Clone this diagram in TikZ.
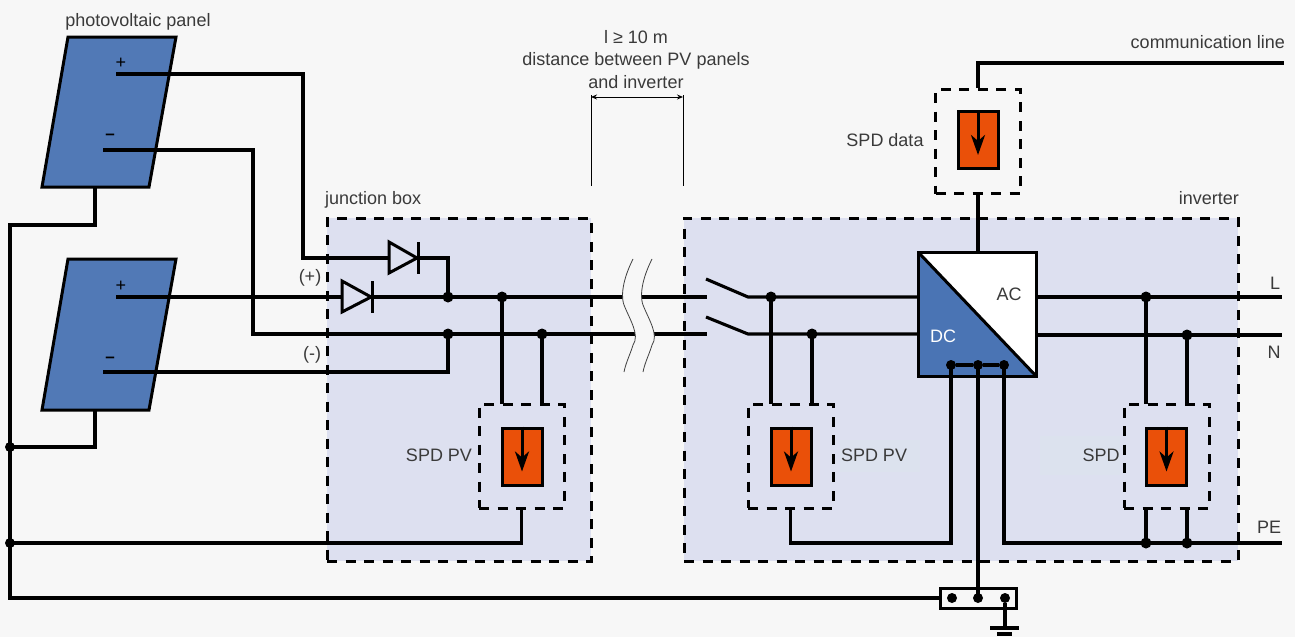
\documentclass[tikz,border=0pt]{standalone}
\usepackage{fontspec}
\setmainfont{Liberation Sans}
\usetikzlibrary{arrows.meta}
\definecolor{pagebg}{HTML}{F7F7F7}
\definecolor{boxbg}{HTML}{DDE0F0}
\definecolor{boxpatch}{HTML}{DCE2EE}
\definecolor{panelblue}{HTML}{5179B6}
\definecolor{dcblue}{HTML}{4A74B4}
\definecolor{spdorange}{HTML}{EA5009}
\definecolor{txt}{HTML}{3A3A3A}
\tikzset{
  wire/.style={line width=3.1pt,line join=miter},
  hwire/.style={line width=3.3pt,line join=miter},
  dot/.style={circle,fill=black,inner sep=0pt,minimum size=11pt},
  zone/.style={draw=black,fill=boxbg,line width=3pt,dash pattern=on 10pt off 8.5pt,inner sep=0pt,outer sep=0pt},
  spdzone/.style={draw=black,line width=3pt,dash pattern=on 10pt off 8.5pt,inner sep=0pt,minimum width=85pt,minimum height=104pt},
  spdcell/.style={draw=black,fill=spdorange,line width=3pt,inner sep=0pt,minimum width=40pt,minimum height=57pt},
  panel/.style={draw=black,fill=panelblue,line width=3pt,line join=miter},
  diodetri/.style={draw=black,fill=boxbg,line width=3pt,line join=miter},
  lab/.style={text=txt,font=\fontsize{18}{21}\selectfont,inner sep=0pt},
  pol/.style={text=black,font=\bfseries\fontsize{17}{19}\selectfont,inner sep=0pt},
  polp/.style={text=black,font=\fontsize{18}{19}\selectfont,inner sep=0pt},
  dim/.style={line width=0.9pt,black},
  spdarrow/.style={line width=3pt,-{Stealth[length=20pt,width=14pt,inset=6pt]}},
}
\begin{document}
\begin{tikzpicture}[x=1pt,y=-1pt]
\useasboundingbox (0,0) rectangle (1295,637);
\fill[pagebg] (0,0) rectangle (1295,637);

% zones
\node[zone,minimum width=264pt,minimum height=343pt] (jbox) at (459,389.5) {};
\node[zone,minimum width=554pt,minimum height=343pt] (inv) at (961,389.5) {};
\fill[boxpatch] (840,440) rectangle (920,472);
\fill[boxpatch] (1040,436) rectangle (1120,475);

% panels
\draw[panel] (68,37) -- (176,37) -- (149,187) -- (42,187) -- cycle;
\draw[panel] (68,259) -- (176,259) -- (149,410) -- (42,410) -- cycle;
\coordinate (p1bot) at (95,187);
\coordinate (p2bot) at (95,410);
\coordinate (p1plus) at (116,74);
\coordinate (p1minus) at (103,150);
\coordinate (p2plus) at (116,297);
\coordinate (p2minus) at (103,372);

% SPD boxes
\node[spdzone] (spd1) at (521.5,456) {};
\node[spdzone] (spd2) at (790.5,456) {};
\node[spdzone] (spd3) at (1166.5,456) {};
\node[spdzone] (spd4) at (978,141.5) {};
\node[spdcell] (c1) at (522,456.5) {};
\node[spdcell] (c2) at (791,456.5) {};
\node[spdcell] (c3) at (1166.5,456.5) {};
\node[spdcell] (c4) at (978,140) {};
\draw[spdarrow] (c1.north) -- ++(0,45);
\draw[spdarrow] (c2.north) -- ++(0,45);
\draw[spdarrow] (c3.north) -- ++(0,45);
\draw[spdarrow] (c4.north) -- ++(0,45);

% junctions
\node[dot] (j1) at (448,297) {};
\node[dot] (j2) at (502,297) {};
\node[dot] (j3) at (448,334) {};
\node[dot] (j4) at (542,334) {};
\node[dot] (j5) at (771,297) {};
\node[dot] (j6) at (812,334) {};
\node[dot] (j7) at (1146,297) {};
\node[dot] (j8) at (1187,335) {};
\node[dot] (j9) at (1146,543) {};
\node[dot] (j10) at (1187,543) {};
\node[dot,minimum size=10pt] (g1) at (10,447) {};
\node[dot,minimum size=10pt] (g2) at (10,543) {};

% switch contacts
\coordinate (swA) at (748,297);
\coordinate (swB) at (748,334);
\coordinate (swAopen) at (706,279);
\coordinate (swBopen) at (706,317);
\coordinate (plusEnd) at (707,297);
\coordinate (minusEnd) at (707,334);

% converter
\node[draw=none,minimum width=117pt,minimum height=123pt,inner sep=0pt] (conv) at (977.5,314.5) {};
\fill[white] (conv.north west) rectangle (conv.south east);
\fill[dcblue] (conv.north west) -- (conv.south east) -- (conv.south west) -- cycle;
\draw[line width=3pt,line join=miter] (conv.north west) rectangle (conv.south east);
\draw[line width=3pt] (conv.north west) -- (conv.south east);
\node[dot,minimum size=10pt] (dc1) at (951,365) {};
\node[dot,minimum size=10pt] (dc2) at (978,365) {};
\node[dot,minimum size=10pt] (dc3) at (1004,365) {};
\draw[wire] (dc1) -- (dc2) -- (dc3);

% earth bar
\node[draw=black,fill=pagebg,line width=3pt,minimum width=76pt,minimum height=20pt,inner sep=0pt] (bar) at (978,598) {};
\node[dot,minimum size=10pt] (e1) at (952,598) {};
\node[dot,minimum size=10pt] (e2) at (978,598) {};
\node[dot,minimum size=10pt] (e3) at (1005,598) {};
\coordinate (earth) at (1005,628);
\draw[wire] (e3) -- (earth);
\draw[wire] (990,628) -- (1019,628);
\draw[wire] (997,634) -- (1012,634);

% wires from panels
\draw[wire] (p1plus) -| (303,258) -- (448,258) -- (j1.center);
\draw[wire] (p1minus) -| (253,334) -- (j3.center);
\draw[wire] (p2minus) -- (448,372) -- (j3.center);
\draw[hwire] (p2plus) -- (j1.center) -- (j2.center) -- (plusEnd);
\draw[wire] (j3.center) -- (j4.center) -- (minusEnd);
\draw[wire] (p1bot) |- (10,225) |- (bar.west);
\draw[wire] (p2bot) |- (g1.center);
\draw[wire] (g2.center) -| (spd1.south);

% SPD stubs, junction box
\draw[hwire] (j2.center) -- (502,404);
\draw[hwire] (j4.center) -- (542,404);

% diodes
\draw[diodetri] (389,242) -- (389,273) -- (417,258) -- cycle;
\draw[line width=3pt] (418,242) -- (418,274);
\draw[diodetri] (342,281) -- (342,312) -- (371,297) -- cycle;
\draw[line width=3pt] (372,281) -- (372,313);

% cable break
\fill[pagebg] (633,259) .. controls (620,285) and (622,300) .. (624,305)
  .. controls (630,320) and (640,335) .. (633,345) .. controls (630,355) and (626,362) .. (624,372)
  -- (643,372) .. controls (645,362) and (649,355) .. (652,345) .. controls (659,335) and (649,320) .. (643,305)
  .. controls (641,300) and (639,285) .. (652,259) -- cycle;
\draw[line width=0.8pt,black!75] (633,259) .. controls (620,285) and (622,300) .. (624,305)
  .. controls (630,320) and (640,335) .. (633,345) .. controls (630,355) and (626,362) .. (624,372);
\draw[line width=0.8pt,black!75] (652,259) .. controls (639,285) and (641,300) .. (643,305)
  .. controls (649,320) and (659,335) .. (652,345) .. controls (649,355) and (645,362) .. (643,372);

% switches and inverter wiring
\draw[wire] (swAopen) -- (swA) -- (j5.center) -- (conv.west |- j5);
\draw[wire] (swBopen) -- (swB) -- (j6.center) -- (conv.west |- j6);
\draw[hwire] (j5.center) -- (771,404);
\draw[wire] (j6.center) -- (812,404);
\draw[wire] (spd2.south) |- (951,543) -- (dc1.center);
\coordinate (PEend) at (1282,543);
\coordinate (Lend) at (1282,297);
\coordinate (Nend) at (1282,335);
\draw[wire] (dc3.center) -- (1004,543) -- (PEend);
\draw[line width=3.6pt] (dc2.center) -- (e2.center);
\draw[wire] (conv.east |- j7) -- (Lend);
\draw[wire] (conv.east |- j8) -- (Nend);
\draw[wire] (j7.center) -- (1146,404);
\draw[wire] (j8.center) -- (1187,404);
\draw[wire] (j9.center) -- (1146,508);
\draw[hwire] (j10.center) -- (1187,508);
\draw[hwire] (spd4.south |- conv.north) -- (spd4.south);
\coordinate (comm) at (1284,63);
\draw[hwire] (spd4.north) |- (comm);

% dimension
\coordinate (dimL) at (591,97);
\coordinate (dimR) at (683,97);
\draw[dim] (591,95) -- (591,186);
\draw[dim] (683,95) -- (683,186);
\draw[dim,{Stealth[length=6pt,width=5pt]}-{Stealth[length=6pt,width=5pt]}] (dimL) -- (dimR);

% labels
\node[lab] (t1) at (138,22) {photovoltaic panel};
\node[lab] (t2) at (636,37.5) {l ≥ 10 m};
\node[lab] (t3) at (636,61) {distance between PV panels};
\node[lab] (t4) at (636,82) {and inverter};
\node[lab,anchor=east] (t5) at (1285,42) {communication line};
\node[lab,anchor=west] (t6) at (325,199.5) {junction box};
\node[lab,anchor=east] (t7) at (1239,198.5) {inverter};
\node[lab] (t8) at (885,140) {SPD data};
\node[lab] (t9) at (439,455) {SPD PV};
\node[lab] (t10) at (874,455) {SPD PV};
\node[lab] (t11) at (1101,455) {SPD};
\node[lab] (t12) at (310,278) {(+)};
\node[lab] (t13) at (312,355) {(-)};
\node[lab] (t14) at (1275,283) {L};
\node[lab] (t15) at (1274,352) {N};
\node[lab] (t16) at (1269,527) {PE};
\node[lab] (t17) at (1009,294) {AC};
\node[lab,text=white] (t18) at (943,336) {DC};
\node[polp] (t19) at (121,63) {+};
\node[pol] (t20) at (110,137) {–};
\node[polp] (t21) at (121,286) {+};
\node[pol] (t22) at (110,360) {–};
\end{tikzpicture}
\end{document}
